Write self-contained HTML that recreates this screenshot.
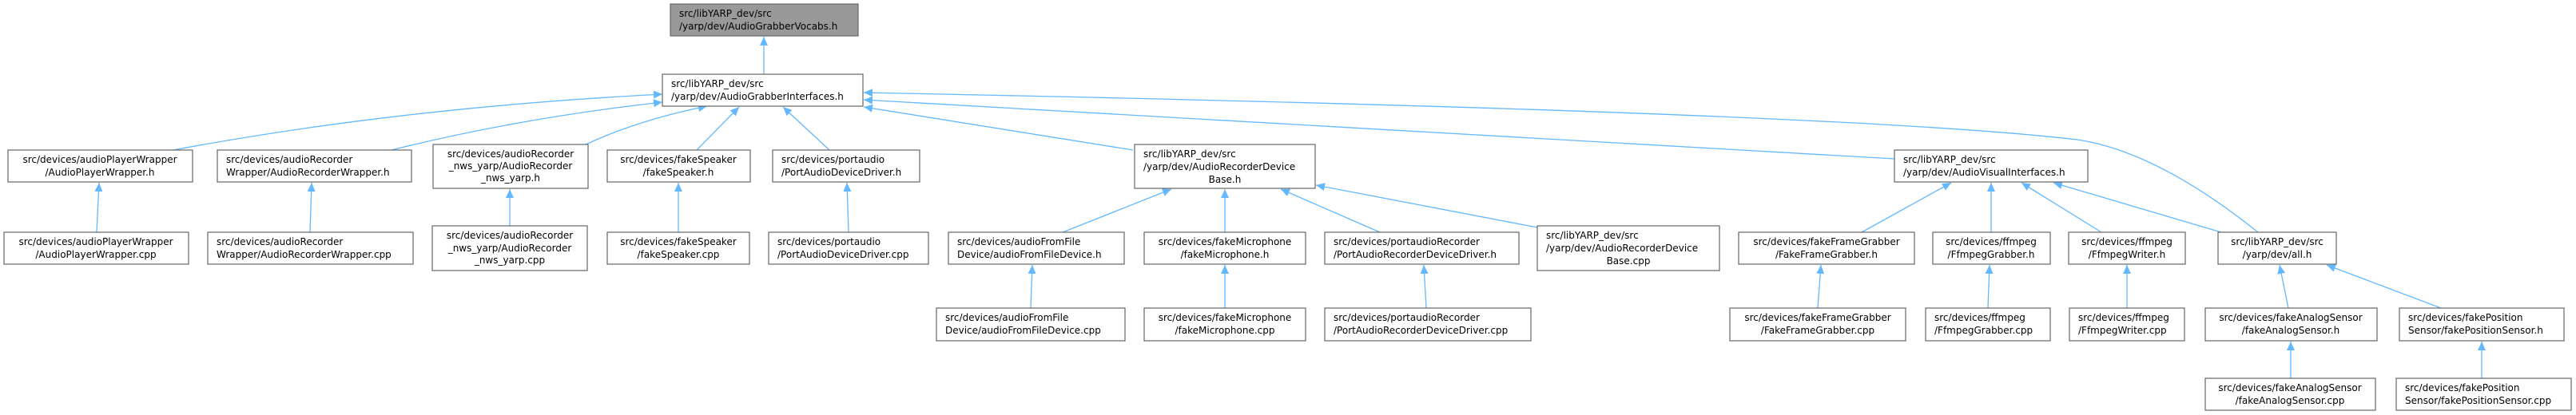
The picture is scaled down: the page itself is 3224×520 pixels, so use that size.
<!DOCTYPE html>
<html><head><meta charset="utf-8"><style>
html,body{margin:0;padding:0;background:#fff;}
svg{display:block;}
text{font-family:"DejaVu Sans","Liberation Sans",sans-serif;font-size:12px;fill:#000;}
</style></head><body>
<svg width="3224" height="520" viewBox="0 0 3224 520" xmlns="http://www.w3.org/2000/svg">
<defs>
<marker id="a" markerUnits="userSpaceOnUse" markerWidth="12" markerHeight="10" refX="11" refY="5" orient="auto">
<path d="M0,0 L11,5 L0,10 Z" fill="#63b8ff"/>
</marker>
</defs>
<g fill="none" stroke="#63b8ff" stroke-width="1.3" marker-end="url(#a)">
<path d="M956,93 L956,46"/>
<path d="M217,188 Q500,135 829,118"/>
<path d="M490,188 Q650,148 829,128"/>
<path d="M733,181 Q800,150 885,133"/>
<path d="M872,188 L925,134"/>
<path d="M1038,188 L980,134"/>
<path d="M1418,188 L1081,134"/>
<path d="M2371,199 L1081,125"/>
<path d="M2826,291 Q2700,190 2600,175 Q2300,140 1081,116"/>
<path d="M1330,291 L1466,237"/>
<path d="M1533,291 L1533,237"/>
<path d="M1727,291 L1603,237"/>
<path d="M1924,285 L1647,232"/>
<path d="M2330,291 L2442,229"/>
<path d="M2492,291 L2492,229"/>
<path d="M2630,291 L2530,229"/>
<path d="M2780,291 L2570,229"/>
<path d="M2864,386 L2853,332"/>
<path d="M3055,386 L2912,332"/>
<path d="M121,291 L124,229"/>
<path d="M388,291 L390,229"/>
<path d="M638,283 L638,237"/>
<path d="M849,291 L849,229"/>
<path d="M1062,291 L1060,229"/>
<path d="M1290,386 L1292,332"/>
<path d="M1533,386 L1533,332"/>
<path d="M1785,386 L1782,332"/>
<path d="M2275,386 L2279,332"/>
<path d="M2488,386 L2490,332"/>
<path d="M2662,386 L2662,332"/>
<path d="M2867,474 L2867,428"/>
<path d="M3106,474 L3106,428"/>
</g>
<g stroke="#666" stroke-width="1.2" fill="#fff">
<rect x="839" y="5" width="235" height="40" fill="#999"/>
<rect x="829" y="93" width="251" height="40"/>
<rect x="10" y="188" width="231" height="40"/>
<rect x="272" y="188" width="243" height="40"/>
<rect x="542" y="181" width="194" height="55"/>
<rect x="760" y="188" width="179" height="40"/>
<rect x="967" y="188" width="184" height="40"/>
<rect x="1420" y="181" width="226" height="55"/>
<rect x="2371" y="188" width="242" height="40"/>
<rect x="5" y="291" width="231" height="40"/>
<rect x="260" y="291" width="257" height="40"/>
<rect x="541" y="283" width="194" height="56"/>
<rect x="760" y="291" width="178" height="40"/>
<rect x="962" y="291" width="200" height="40"/>
<rect x="1187" y="291" width="220" height="40"/>
<rect x="1432" y="291" width="202" height="40"/>
<rect x="1658" y="291" width="243" height="40"/>
<rect x="1924" y="283" width="228" height="56"/>
<rect x="2176" y="291" width="220" height="40"/>
<rect x="2419" y="291" width="147" height="40"/>
<rect x="2589" y="291" width="146" height="40"/>
<rect x="2776" y="291" width="148" height="40"/>
<rect x="1172" y="386" width="236" height="41"/>
<rect x="1432" y="386" width="202" height="41"/>
<rect x="1658" y="386" width="258" height="41"/>
<rect x="2165" y="386" width="220" height="41"/>
<rect x="2410" y="386" width="156" height="41"/>
<rect x="2590" y="386" width="144" height="41"/>
<rect x="2760" y="386" width="215" height="41"/>
<rect x="3003" y="386" width="206" height="41"/>
<rect x="2760" y="474" width="213" height="40"/>
<rect x="2999" y="474" width="219" height="40"/>
</g>
<g>
<text x="850" y="21">src/libYARP_dev/src</text><text x="850" y="37">/yarp/dev/AudioGrabberVocabs.h</text>
<text x="840" y="109">src/libYARP_dev/src</text><text x="840" y="125">/yarp/dev/AudioGrabberInterfaces.h</text>
<text x="1431" y="197">src/libYARP_dev/src</text><text x="1431" y="213">/yarp/dev/AudioRecorderDevice</text><text x="1533" y="229" text-anchor="middle">Base.h</text>
<text x="2382" y="204">src/libYARP_dev/src</text><text x="2382" y="220">/yarp/dev/AudioVisualInterfaces.h</text>
<text x="283" y="204">src/devices/audioRecorder</text><text x="283" y="220">Wrapper/AudioRecorderWrapper.h</text>
<text x="978" y="204">src/devices/portaudio</text><text x="978" y="220">/PortAudioDeviceDriver.h</text>
<text x="271" y="307">src/devices/audioRecorder</text><text x="271" y="323">Wrapper/AudioRecorderWrapper.cpp</text>
<text x="973" y="307">src/devices/portaudio</text><text x="973" y="323">/PortAudioDeviceDriver.cpp</text>
<text x="1198" y="307">src/devices/audioFromFile</text><text x="1198" y="323">Device/audioFromFileDevice.h</text>
<text x="1669" y="307">src/devices/portaudioRecorder</text><text x="1669" y="323">/PortAudioRecorderDeviceDriver.h</text>
<text x="1935" y="299">src/libYARP_dev/src</text><text x="1935" y="315">/yarp/dev/AudioRecorderDevice</text><text x="2038" y="331" text-anchor="middle">Base.cpp</text>
<text x="1183" y="402">src/devices/audioFromFile</text><text x="1183" y="418">Device/audioFromFileDevice.cpp</text>
<text x="1669" y="402">src/devices/portaudioRecorder</text><text x="1669" y="418">/PortAudioRecorderDeviceDriver.cpp</text>
<text x="2421" y="402">src/devices/ffmpeg</text><text x="2421" y="418">/FfmpegGrabber.cpp</text>
<text x="2601" y="402">src/devices/ffmpeg</text><text x="2601" y="418">/FfmpegWriter.cpp</text>
<text x="3014" y="402">src/devices/fakePosition</text><text x="3014" y="418">Sensor/fakePositionSensor.h</text>
<text x="3010" y="490">src/devices/fakePosition</text><text x="3010" y="506">Sensor/fakePositionSensor.cpp</text>
</g>
<g text-anchor="middle">
<text x="125" y="204">src/devices/audioPlayerWrapper</text><text x="125" y="220">/AudioPlayerWrapper.h</text>
<text x="639" y="197">src/devices/audioRecorder</text><text x="639" y="212">_nws_yarp/AudioRecorder</text><text x="639" y="227">_nws_yarp.h</text>
<text x="849" y="204">src/devices/fakeSpeaker</text><text x="849" y="220">/fakeSpeaker.h</text>
<text x="120" y="307">src/devices/audioPlayerWrapper</text><text x="120" y="323">/AudioPlayerWrapper.cpp</text>
<text x="638" y="299">src/devices/audioRecorder</text><text x="638" y="315">_nws_yarp/AudioRecorder</text><text x="638" y="330">_nws_yarp.cpp</text>
<text x="849" y="307">src/devices/fakeSpeaker</text><text x="849" y="323">/fakeSpeaker.cpp</text>
<text x="1533" y="307">src/devices/fakeMicrophone</text><text x="1533" y="323">/fakeMicrophone.h</text>
<text x="2286" y="307">src/devices/fakeFrameGrabber</text><text x="2286" y="323">/FakeFrameGrabber.h</text>
<text x="2492" y="307">src/devices/ffmpeg</text><text x="2492" y="323">/FfmpegGrabber.h</text>
<text x="2662" y="307">src/devices/ffmpeg</text><text x="2662" y="323">/FfmpegWriter.h</text>
<text x="2850" y="307">src/libYARP_dev/src</text><text x="2850" y="323">/yarp/dev/all.h</text>
<text x="1533" y="402">src/devices/fakeMicrophone</text><text x="1533" y="418">/fakeMicrophone.cpp</text>
<text x="2275" y="402">src/devices/fakeFrameGrabber</text><text x="2275" y="418">/FakeFrameGrabber.cpp</text>
<text x="2867" y="402">src/devices/fakeAnalogSensor</text><text x="2867" y="418">/fakeAnalogSensor.h</text>
<text x="2866" y="490">src/devices/fakeAnalogSensor</text><text x="2866" y="506">/fakeAnalogSensor.cpp</text>
</g>
</svg>
</body></html>
